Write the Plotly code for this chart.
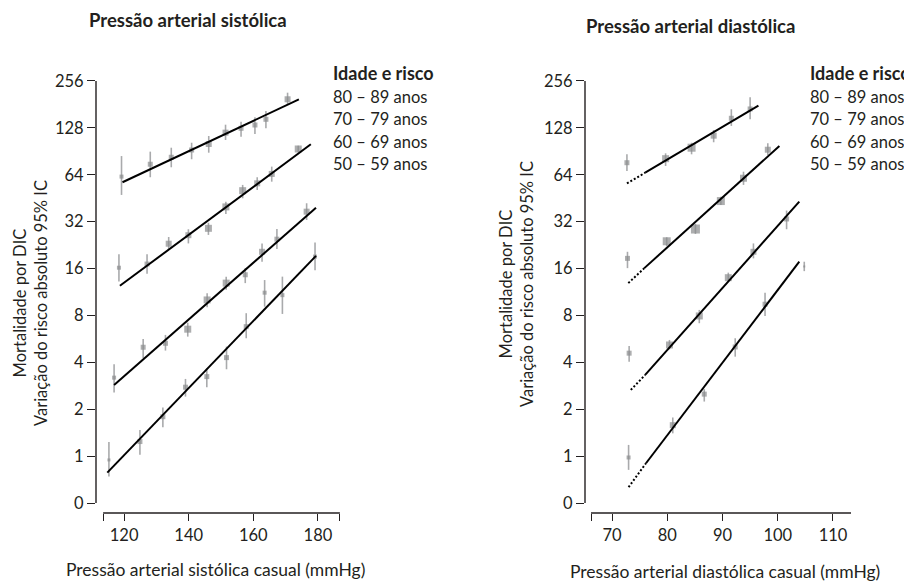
import plotly.graph_objects as go

# ---------------- data ----------------
age_groups = ["80 – 89 anos", "70 – 79 anos", "60 – 69 anos", "50 – 59 anos"]

# Systolic panel
sys_x_80 = [119.2, 128.1, 134.6, 140.9, 146.2, 151.4, 156.2, 160.5, 163.9, 170.6]
sys_y_80 = [62.3, 74.8, 82.9, 92.3, 100.9, 119.3, 127.2, 133.6, 145.3, 195.4]
sys_hi_80 = [84.4, 90.1, 95.5, 102.8, 113.5, 134.2, 140.3, 149.7, 164.3, 215.4]
sys_lo_80 = [47.5, 61.7, 71.5, 80.5, 88.7, 107.0, 112.4, 117.0, 127.2, 182.0]
sys_sz_80 = [4, 5, 5, 5, 6, 6, 5, 5, 5, 6]

sys_x_70 = [118.4, 127.1, 133.8, 139.9, 146.1, 151.5, 156.7, 161.2, 165.7, 173.9]
sys_y_70 = [16.2, 17.1, 23.1, 26.2, 29.0, 39.8, 50.6, 56.4, 64.8, 93.7]
sys_hi_70 = [19.8, 19.8, 25.5, 28.6, 31.5, 43.0, 55.1, 61.7, 72.2, 98.4]
sys_lo_70 = [13.2, 14.8, 21.1, 23.2, 26.3, 35.9, 45.2, 51.1, 57.8, 89.3]
sys_sz_70 = [4, 5, 6, 6, 7, 7, 7, 6, 6, 7]

sys_x_60 = [116.9, 125.9, 132.8, 139.7, 145.7, 151.6, 157.5, 162.7, 167.3, 176.5]
sys_y_60 = [3.19, 5.0, 5.30, 6.53, 10.06, 12.9, 14.6, 20.5, 24.7, 37.1]
sys_hi_60 = [3.89, 5.65, 6.0, 7.19, 11.1, 14.2, 16.1, 23.2, 28.7, 42.0]
sys_lo_60 = [2.56, 4.25, 4.76, 5.85, 9.03, 11.7, 12.9, 17.7, 21.4, 32.8]
sys_sz_60 = [4, 5, 5, 7, 7, 7, 5, 6, 5, 6]

sys_x_50 = [115.3, 124.9, 132.0, 139.0, 145.6, 151.7, 157.8, 163.5, 169.0, 179.1]
sys_y_50 = [0.945, 1.24, 1.79, 2.77, 3.24, 4.29, 6.78, 11.2, 10.8, 19.1]
sys_hi_50 = [1.23, 1.47, 2.05, 3.13, 3.67, 5.05, 8.27, 13.5, 14.2, 23.5]
sys_lo_50 = [0.739, 1.02, 1.53, 2.41, 2.77, 3.61, 5.71, 9.11, 8.18, 15.6]
sys_sz_50 = [3, 5, 5, 5, 5, 5, 5, 4, 4, 4]

sys_fit_x = {"80": [119.5, 174.1], "70": [118.7, 177.8], "60": [116.9, 179.4], "50": [114.8, 179.4]}
sys_fit_y = {"80": [57.3, 195.0], "70": [12.4, 100.4], "60": [2.86, 39.3], "50": [0.784, 19.3]}

# Diastolic panel
dia_x_80 = [72.7, 79.7, 84.4, 88.4, 91.6, 95.0]
dia_y_80 = [76.5, 81.2, 95.5, 114.1, 147.5, 169.3]
dia_hi_80 = [86.6, 87.9, 102.8, 124.1, 168.6, 201.2]
dia_lo_80 = [67.7, 72.9, 86.6, 103.5, 131.7, 145.3]
dia_sz_80 = [5, 7, 8, 6, 5, 5]

dia_x_70 = [72.8, 79.9, 85.1, 89.7, 93.8, 98.2]
dia_y_70 = [18.6, 23.95, 28.7, 43.4, 60.8, 92.7]
dia_hi_70 = [20.5, 25.4, 30.9, 46.3, 67.0, 102.0]
dia_lo_70 = [16.1, 22.3, 26.7, 41.0, 55.1, 85.8]
dia_sz_70 = [5, 8, 9, 8, 7, 6]

dia_x_60 = [73.1, 80.4, 85.8, 91.05, 95.6, 101.6]
dia_y_60 = [4.58, 5.17, 7.94, 13.98, 20.5, 33.3]
dia_hi_60 = [5.10, 5.57, 8.68, 15.06, 23.2, 37.7]
dia_lo_60 = [4.04, 4.85, 7.13, 13.38, 18.6, 28.6]
dia_sz_60 = [5, 7, 7, 7, 6, 5]

dia_x_50 = [73.0, 81.0, 86.7, 92.3, 97.7, 104.8]
dia_y_50 = [0.98, 1.58, 2.50, 5.02, 9.45, 16.5]
dia_hi_50 = [1.18, 1.77, 2.69, 5.71, 11.2, 17.7]
dia_lo_50 = [0.816, 1.40, 2.24, 4.35, 7.94, 15.4]
dia_sz_50 = [4, 6, 5, 5, 5, 2]

dia_dot_x = {"80": [72.7, 76.0], "70": [72.95, 75.85], "60": [73.4, 76.0], "50": [73.0, 76.15]}
dia_dot_y = {"80": [56.4, 66.0], "70": [12.9, 16.1], "60": [2.66, 3.32], "50": [0.632, 0.90]}
dia_fit_x = {"80": [76.0, 96.5], "70": [75.85, 100.3], "60": [76.0, 103.9], "50": [76.15, 103.9]}
dia_fit_y = {"80": [66.0, 177.7], "70": [16.1, 97.9], "60": [3.32, 43.0], "50": [0.90, 17.7]}

y_tickvals = [0.5, 1, 2, 4, 8, 16, 32, 64, 128, 256]
y_ticktext = ["0", "1", "2", "4", "8", "16", "32", "64", "128", "256"]
sys_ticks = [120, 140, 160, 180]
dia_ticks = [70, 80, 90, 100, 110]
sys_axis_span = [113.5, 186.8]
dia_axis_span = [66.2, 113.3]

# ---------------- styling ----------------
FONT = "Lato"
TXT = "#231f20"
MARK = "#8a8b8d"
ERR = "#a9aaac"
OFF = 8                      # default page body margin
W, H = 912 - OFF, 582 - OFF  # figure size so that it fills the window

fig = go.Figure()


def add_points(xs, ys, hi, lo, sz, xa, ya):
    fig.add_trace(go.Scatter(
        x=xs, y=ys, mode="markers", xaxis=xa, yaxis=ya,
        marker=dict(symbol="square", color=MARK, size=sz, line=dict(width=0)),
        error_y=dict(type="data", symmetric=False,
                     array=[h - v for h, v in zip(hi, ys)],
                     arrayminus=[v - l for v, l in zip(ys, lo)],
                     color=ERR, thickness=1.6, width=0),
        showlegend=False, hoverinfo="skip"))


def add_line(xs, ys, xa, ya, dash="solid"):
    fig.add_trace(go.Scatter(
        x=xs, y=ys, mode="lines", xaxis=xa, yaxis=ya,
        line=dict(color="black", width=2, dash=dash),
        showlegend=False, hoverinfo="skip"))


sys_series = [
    ("80", sys_x_80, sys_y_80, sys_hi_80, sys_lo_80, sys_sz_80),
    ("70", sys_x_70, sys_y_70, sys_hi_70, sys_lo_70, sys_sz_70),
    ("60", sys_x_60, sys_y_60, sys_hi_60, sys_lo_60, sys_sz_60),
    ("50", sys_x_50, sys_y_50, sys_hi_50, sys_lo_50, sys_sz_50),
]
dia_series = [
    ("80", dia_x_80, dia_y_80, dia_hi_80, dia_lo_80, dia_sz_80),
    ("70", dia_x_70, dia_y_70, dia_hi_70, dia_lo_70, dia_sz_70),
    ("60", dia_x_60, dia_y_60, dia_hi_60, dia_lo_60, dia_sz_60),
    ("50", dia_x_50, dia_y_50, dia_hi_50, dia_lo_50, dia_sz_50),
]

for k, xs, ys, hi, lo, sz in sys_series:
    add_points(xs, ys, hi, lo, sz, "x", "y")
    add_line(sys_fit_x[k], sys_fit_y[k], "x", "y")

for k, xs, ys, hi, lo, sz in dia_series:
    add_points(xs, ys, hi, lo, sz, "x2", "y2")
    add_line(dia_dot_x[k], dia_dot_y[k], "x2", "y2", dash="2px,2px")
    add_line(dia_fit_x[k], dia_fit_y[k], "x2", "y2")


def px(v):
    return (v - OFF) / W


def py(v):
    return 1 - (v - OFF) / H


y_dom = [py(513), py(81)]
y_range = [-0.3652, 2.4082]

tickfont = dict(family=FONT, size=16.5, color=TXT)

yaxis_common = dict(type="log", range=y_range, domain=y_dom, tickmode="array",
                    tickvals=y_tickvals, ticktext=y_ticktext, ticks="outside",
                    ticklen=8, tickwidth=1.3, tickcolor=TXT, showline=False,
                    showgrid=False, zeroline=False, tickfont=tickfont)

fig.update_layout(
    width=W, height=H,
    margin=dict(l=0, r=0, t=0, b=0, autoexpand=False),
    paper_bgcolor="white", plot_bgcolor="white",
    showlegend=False,
    font=dict(family=FONT, color=TXT),
    xaxis=dict(domain=[px(96), px(340)], range=[111.3, 186.83], anchor="y",
               tickmode="array", tickvals=[sys_axis_span[0]] + sys_ticks + [sys_axis_span[1]],
               ticktext=[""] + [str(t) for t in sys_ticks] + [""],
               ticks="outside", ticklen=7, tickwidth=1.3, tickcolor=TXT,
               showline=False, showgrid=False, zeroline=False, tickfont=tickfont),
    yaxis=dict(anchor="x", **yaxis_common),
    xaxis2=dict(domain=[px(585), px(851)], range=[65.11, 113.26], anchor="y2",
                tickmode="array", tickvals=[dia_axis_span[0]] + dia_ticks + [dia_axis_span[1]],
                ticktext=[""] + [str(t) for t in dia_ticks] + [""],
                ticks="outside", ticklen=7, tickwidth=1.3, tickcolor=TXT,
                showline=False, showgrid=False, zeroline=False, tickfont=tickfont),
    yaxis2=dict(anchor="x2", **yaxis_common),
)

# axis lines (R-style detached axes)
shapes = []
for xa, ya, span in (("x", "y", sys_axis_span), ("x2", "y2", dia_axis_span)):
    shapes.append(dict(type="line", xref=xa + " domain", yref=ya, x0=0, x1=0,
                       y0=y_tickvals[0], y1=y_tickvals[-1],
                       line=dict(color=TXT, width=1.4)))
    shapes.append(dict(type="line", xref=xa, yref=ya + " domain", x0=span[0], x1=span[1],
                       y0=0, y1=0, line=dict(color=TXT, width=1.4)))
fig.update_layout(shapes=shapes)

ann = []
# panel titles
ann.append(dict(text="<b>Pressão arterial sistólica</b>", x=px(188), y=py(20),
                font=dict(family=FONT, size=18.5, color=TXT)))
ann.append(dict(text="<b>Pressão arterial diastólica</b>", x=px(690), y=py(26),
                font=dict(family=FONT, size=18.5, color=TXT)))
# x titles
ann.append(dict(text="Pressão arterial sistólica casual (mmHg)", x=px(215), y=py(569),
                font=dict(family=FONT, size=17.5, color=TXT)))
ann.append(dict(text="Pressão arterial diastólica casual (mmHg)", x=px(725), y=py(571.5),
                font=dict(family=FONT, size=17.5, color=TXT)))
# y titles
ytitle = "Mortalidade por DIC<br>Variação do risco absoluto 95% IC"
ann.append(dict(text=ytitle, x=px(30), y=py(303), textangle=-90,
                font=dict(family=FONT, size=16.5, color=TXT)))
ann.append(dict(text=ytitle, x=px(516), y=py(284), textangle=-90,
                font=dict(family=FONT, size=16.5, color=TXT)))
# legend-like text
for lx in (331, 808):
    ann.append(dict(text="<b>Idade e risco</b>", x=px(lx), y=py(73), xanchor="left",
                    font=dict(family=FONT, size=18, color=TXT)))
    for i, g in enumerate(age_groups):
        ann.append(dict(text=g, x=px(lx), y=py(97 + 22.3 * i), xanchor="left",
                        font=dict(family=FONT, size=16.5, color=TXT)))

for a in ann:
    a.setdefault("xanchor", "center")
    a["yanchor"] = "middle"
    a["xref"] = "paper"
    a["yref"] = "paper"
    a["showarrow"] = False
fig.update_layout(annotations=ann)

fig.write_html("out.html")
